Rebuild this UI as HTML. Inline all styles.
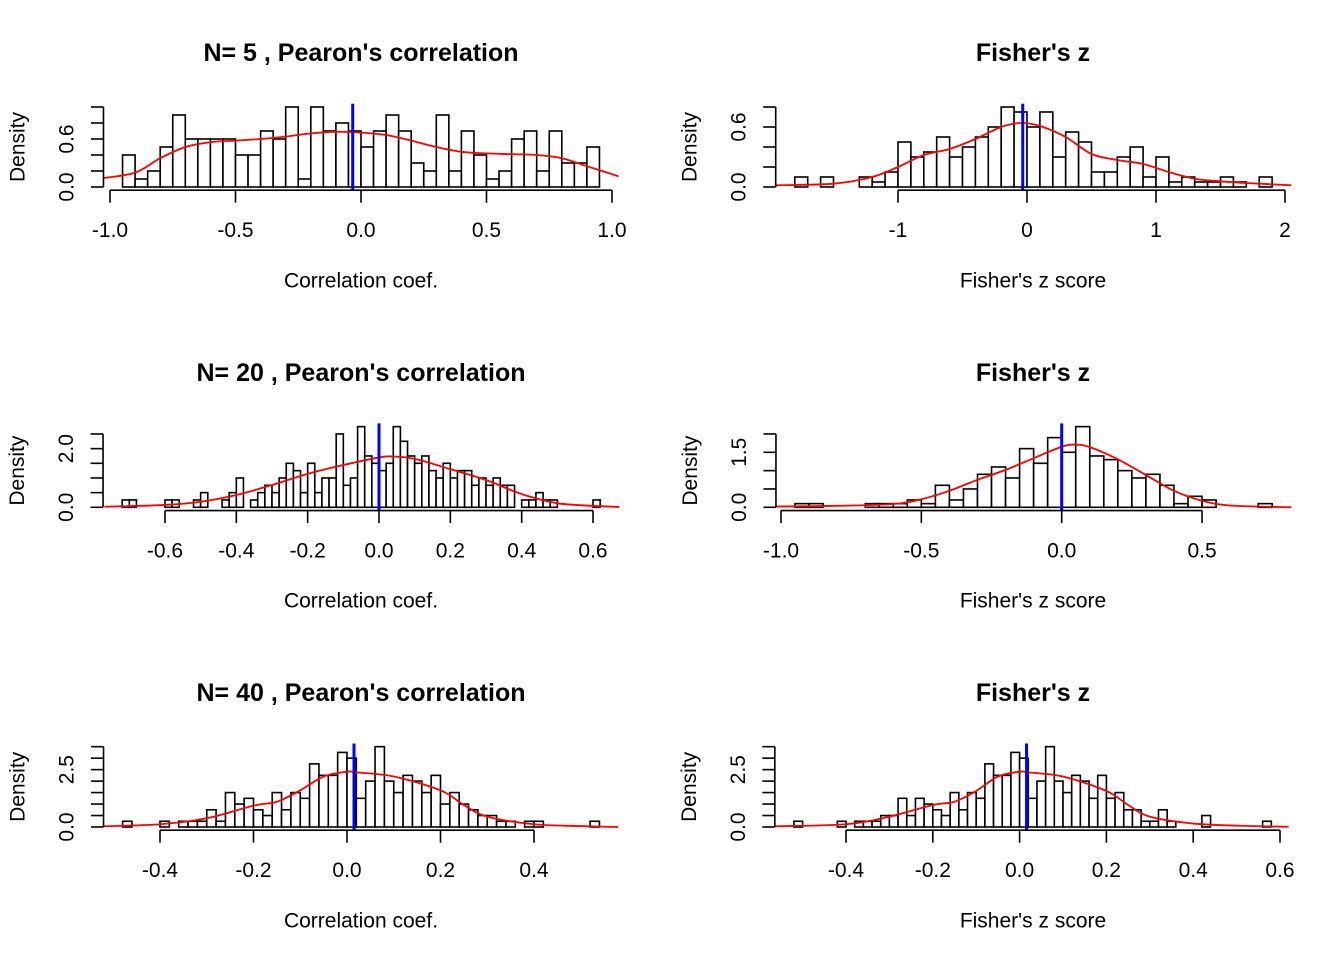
<!DOCTYPE html>
<html><head><meta charset="utf-8"><title>Correlation histograms</title>
<style>
html,body{margin:0;padding:0;background:#fff;}
svg{display:block;font-family:"Liberation Sans",Arial,sans-serif;}
</style></head>
<body>
<svg id="chart" width="1344" height="960" viewBox="0 0 1344 960" xmlns="http://www.w3.org/2000/svg">
<rect x="0" y="0" width="1344" height="960" fill="#fff"/>
</svg>
<script>
// ---------- Panel 1: N=5 Pearson ----------
const p1Counts = [4,1,2,5,9,6,6,6,6,4,4,7,6,10,1,10,7,8,7,5,7,9,7,3,2,9,2,7,4,1,2,6,7,2,7,3,3,5];
const p1CurveX = [-1.03,-0.9,-0.8,-0.7,-0.6,-0.5,-0.4,-0.3,-0.2,-0.1,0,0.1,0.2,0.3,0.4,0.5,0.6,0.7,0.8,0.9,1.03];
const p1CurveY = [0.11,0.18,0.36,0.5,0.56,0.58,0.6,0.63,0.67,0.69,0.68,0.65,0.58,0.5,0.44,0.42,0.41,0.4,0.36,0.26,0.13];
const p1XTicks = [-1.0,-0.5,0.0,0.5,1.0];
const p1XLabels = ["-1.0","-0.5","0.0","0.5","1.0"];
const p1YTicks = [0,0.2,0.4,0.6,0.8,1.0];
const p1YLabelVals = [0,0.6];
const p1YLabels = ["0.0","0.6"];
const p1Mean = -0.033;
// ---------- Panel 2: Fisher z (N=5) ----------
const p2Counts = [2,0,2,0,0,2,1,3,9,6,7,10,6,8,10,12,16,15,12,15,6,11,9,3,3,6,8,2,6,1,2,1,1,2,1,0,2];
const p2CurveX = [-1.95,-1.5,-1.2,-1.0,-0.8,-0.6,-0.4,-0.2,-0.05,0.1,0.3,0.5,0.7,0.9,1.1,1.3,1.5,1.7,2.05];
const p2CurveY = [0.017,0.033,0.1,0.2,0.32,0.38,0.48,0.6,0.64,0.61,0.5,0.33,0.27,0.23,0.15,0.083,0.057,0.04,0.017];
const p2XTicks = [-1,0,1,2];
const p2XLabels = ["-1","0","1","2"];
const p2YTicks = [0,0.2,0.4,0.6,0.8];
const p2YLabelVals = [0,0.6];
const p2YLabels = ["0.0","0.6"];
const p2Mean = -0.033;
// ---------- Panel 3: N=20 Pearson ----------
const p3Counts = [1,1,0,0,0,0,1,1,0,0,1,2,0,0,1,2,4,0,1,2,3,2,4,6,5,2,6,2,4,4,10,3,4,11,7,6,5,6,11,9,7,6,7,5,4,6,4,5,5,3,4,3,4,3,3,0,1,1,2,1,1,0,0,0,0,0,1];
const p3CurveX = [-0.77,-0.6,-0.5,-0.4,-0.3,-0.2,-0.1,0,0.04,0.1,0.2,0.3,0.4,0.5,0.6,0.68];
const p3CurveY = [0.02,0.08,0.19,0.42,0.76,1.14,1.44,1.7,1.73,1.65,1.3,0.93,0.45,0.14,0.05,0.01];
const p3XTicks = [-0.6,-0.4,-0.2,0,0.2,0.4,0.6];
const p3XLabels = ["-0.6","-0.4","-0.2","0.0","0.2","0.4","0.6"];
const p3YTicks = [0,0.5,1,1.5,2,2.5];
const p3YLabelVals = [0,2];
const p3YLabels = ["0.0","2.0"];
const p3Mean = 0.0;
// ---------- Panel 4: Fisher z (N=20) ----------
const p4Counts = [1,1,0,0,0,1,1,1,2,1,6,2,5,9,11,8,16,12,19,15,22,14,13,10,8,9,6,1,3,2,0,0,0,1];
const p4CurveX = [-1.02,-0.8,-0.6,-0.5,-0.4,-0.3,-0.2,-0.1,0,0.05,0.1,0.2,0.3,0.4,0.5,0.6,0.82];
const p4CurveY = [0.02,0.04,0.09,0.22,0.45,0.75,1.02,1.34,1.65,1.71,1.64,1.31,0.88,0.45,0.18,0.05,0.0];
const p4XTicks = [-1.0,-0.5,0,0.5];
const p4XLabels = ["-1.0","-0.5","0.0","0.5"];
const p4YTicks = [0,0.5,1,1.5,2];
const p4YLabelVals = [0,1.5];
const p4YLabels = ["0.0","1.5"];
const p4Mean = 0.0;
// ---------- Panel 5: N=40 Pearson ----------
const p5Counts = [1,0,0,0,1,0,1,1,1,3,1,6,4,5,3,2,6,3,6,5,11,9,9,13,12,5,8,14,8,6,9,8,6,9,4,6,4,3,2,2,1,1,0,1,1,0,0,0,0,0,1];
const p5CurveX = [-0.52,-0.4,-0.3,-0.2,-0.15,-0.1,-0.05,0,0.02,0.1,0.2,0.25,0.3,0.4,0.5,0.58];
const p5CurveY = [0.03,0.12,0.38,0.93,1.1,1.6,2.2,2.41,2.38,2.2,1.6,0.96,0.45,0.12,0.04,0.0];
const p5XTicks = [-0.4,-0.2,0,0.2,0.4];
const p5XLabels = ["-0.4","-0.2","0.0","0.2","0.4"];
const p5YTicks = [0,0.5,1,1.5,2,2.5,3,3.5];
const p5YLabelVals = [0,2.5];
const p5YLabels = ["0.0","2.5"];
const p5Mean = 0.015;
// ---------- Panel 6: Fisher z (N=40) ----------
const p6Counts = [1,0,0,0,0,1,0,1,1,1,2,2,5,2,5,4,3,2,6,3,6,5,11,9,9,13,12,5,8,14,8,6,9,8,5,9,5,6,3,3,1,1,3,1,0,0,0,2,0,0,0,0,0,0,1];
const p6CurveX = [-0.565,-0.4,-0.3,-0.2,-0.15,-0.1,-0.05,0,0.02,0.1,0.2,0.25,0.3,0.4,0.5,0.62];
const p6CurveY = [0.03,0.12,0.45,0.96,1.1,1.57,2.2,2.41,2.38,2.2,1.57,0.96,0.45,0.15,0.06,0.01];
const p6XTicks = [-0.4,-0.2,0,0.2,0.4,0.6];
const p6XLabels = ["-0.4","-0.2","0.0","0.2","0.4","0.6"];
const p6YTicks = [0,0.5,1,1.5,2,2.5,3,3.5];
const p6YLabelVals = [0,2.5];
const p6YLabels = ["0.0","2.5"];
const p6Mean = 0.016;

const NS = "http://www.w3.org/2000/svg";
const svg = document.getElementById('chart');
function mk(tag, attrs, parent){
  const e = document.createElementNS(NS, tag);
  for (const k in attrs) e.setAttribute(k, attrs[k]);
  (parent||svg).appendChild(e);
  return e;
}
function smoothPath(pts){
  let d = "M" + pts[0][0].toFixed(2) + "," + pts[0][1].toFixed(2);
  for (let i=0;i<pts.length-1;i++){
    const p0 = pts[Math.max(0,i-1)], p1 = pts[i], p2 = pts[i+1], p3 = pts[Math.min(pts.length-1,i+2)];
    const c1x = p1[0]+(p2[0]-p0[0])/6, c1y = p1[1]+(p2[1]-p0[1])/6;
    const c2x = p2[0]-(p3[0]-p1[0])/6, c2y = p2[1]-(p3[1]-p1[1])/6;
    d += " C"+c1x.toFixed(2)+","+c1y.toFixed(2)+" "+c2x.toFixed(2)+","+c2y.toFixed(2)+" "+p2[0].toFixed(2)+","+p2[1].toFixed(2);
  }
  return d;
}

const panels = [
 {id:1,title:"N= 5 , Pearon's correlation",xlab:"Correlation coef.",counts:p1Counts,start:-0.95,w:0.05,n:200,cx:p1CurveX,cy:p1CurveY,xt:p1XTicks,xl:p1XLabels,yt:p1YTicks,ylv:p1YLabelVals,yl:p1YLabels,mean:p1Mean,x0:361,xs:251,base:187,ys:80,col:0,row:0},
 {id:2,title:"Fisher's z",xlab:"Fisher's z score",counts:p2Counts,start:-1.8,w:0.1,n:200,cx:p2CurveX,cy:p2CurveY,xt:p2XTicks,xl:p2XLabels,yt:p2YTicks,ylv:p2YLabelVals,yl:p2YLabels,mean:p2Mean,x0:1027,xs:129,base:187,ys:100,col:1,row:0},
 {id:3,title:"N= 20 , Pearon's correlation",xlab:"Correlation coef.",counts:p3Counts,start:-0.72,w:0.02,n:200,cx:p3CurveX,cy:p3CurveY,xt:p3XTicks,xl:p3XLabels,yt:p3YTicks,ylv:p3YLabelVals,yl:p3YLabels,mean:p3Mean,x0:379,xs:356.7,base:507.3,ys:29.33,col:0,row:1},
 {id:4,title:"Fisher's z",xlab:"Fisher's z score",counts:p4Counts,start:-0.95,w:0.05,n:200,cx:p4CurveX,cy:p4CurveY,xt:p4XTicks,xl:p4XLabels,yt:p4YTicks,ylv:p4YLabelVals,yl:p4YLabels,mean:p4Mean,x0:1061.7,xs:280.7,base:507.3,ys:36.67,col:1,row:1},
 {id:5,title:"N= 40 , Pearon's correlation",xlab:"Correlation coef.",counts:p5Counts,start:-0.48,w:0.02,n:200,cx:p5CurveX,cy:p5CurveY,xt:p5XTicks,xl:p5XLabels,yt:p5YTicks,ylv:p5YLabelVals,yl:p5YLabels,mean:p5Mean,x0:347,xs:467.5,base:827,ys:22.95,col:0,row:2},
 {id:6,title:"Fisher's z",xlab:"Fisher's z score",counts:p6Counts,start:-0.52,w:0.02,n:200,cx:p6CurveX,cy:p6CurveY,xt:p6XTicks,xl:p6XLabels,yt:p6YTicks,ylv:p6YLabelVals,yl:p6YLabels,mean:p6Mean,x0:1019.6,xs:434,base:827,ys:22.95,col:1,row:2}
];

panels.forEach(P=>{
  const g = mk('g',{});
  
  
  const X = v => P.x0 + P.xs*v;
  const Y = v => P.base - P.ys*v;
  const nb = P.counts.length;
  const lo = P.start, hi = P.start + nb*P.w;
  const pad = (hi-lo)*0.04;
  const dens = P.counts.map(c=>c/(P.n*P.w));
  const ymax = Math.max(...dens, ...P.yt.slice(-1).map(()=>0));
  const left = X(lo-pad), right = X(hi+pad);
  const bottom = P.base + ymax*0.04*P.ys, top = P.base - ymax*1.04*P.ys;
  const centerX = P.col===0 ? 361 : 1033;
  const rowOff = [0,320,640][P.row];

  // title
  const t = mk('text',{x:centerX,y:61+rowOff,'text-anchor':'middle','font-size':'25','font-weight':'bold',fill:'#000'},g);
  t.textContent = P.title;
  
  
  // x label
  const xl = mk('text',{x:centerX,y:287.5+rowOff,'text-anchor':'middle','font-size':'21',fill:'#000'},g);
  xl.textContent = P.xlab;
  
  
  // y label
  const ylx = left-79, ylyc = (P.base + Y(P.yt[P.yt.length-1]))/2;
  const yl = mk('text',{x:ylx,y:ylyc,'text-anchor':'middle','font-size':'21',fill:'#000',transform:'rotate(-90 '+ylx+' '+ylyc+')'},g);
  yl.textContent = "Density";
  
  

  // bars
  const bars = mk('g',{},g);
  
  
  dens.forEach((d,i)=>{
    const x1 = X(lo+i*P.w), x2 = X(lo+(i+1)*P.w);
    const r = mk('rect',{x:x1,y:Y(d),width:x2-x1,height:Math.max(0,P.base-Y(d)),fill:'#fff',stroke:'#000','stroke-width':'1.6'},bars);
    
    
  });

  // clip
  const cp = mk('clipPath',{id:'clip'+P.id},g);
  mk('rect',{x:left,y:top,width:right-left,height:bottom-top},cp);

  // density curve
  const pts = P.cx.map((v,i)=>[X(v),Y(P.cy[i])]);
  const cur = mk('path',{d:smoothPath(pts),fill:'none',stroke:'#ff0000','stroke-width':'1.8','clip-path':'url(#clip'+P.id+')'},g);
  
  

  // mean line
  const ml = mk('line',{x1:X(P.mean),x2:X(P.mean),y1:top,y2:bottom,stroke:'#0000ff','stroke-width':'3'},g);
  
  

  // x axis
  const xa = mk('g',{},g);
  
  
  mk('line',{x1:X(P.xt[0]),x2:X(P.xt[P.xt.length-1]),y1:bottom,y2:bottom,stroke:'#000','stroke-width':'1.6'},xa);
  P.xt.forEach((v,i)=>{
    mk('line',{x1:X(v),x2:X(v),y1:bottom,y2:bottom+12.5,stroke:'#000','stroke-width':'1.6'},xa);
    const tl = mk('text',{x:X(v),y:bottom+47,'text-anchor':'middle','font-size':'21',fill:'#000'},xa);
    tl.textContent = P.xl[i];
    
    
  });

  // y axis
  const ya = mk('g',{},g);
  
  
  mk('line',{x1:left,x2:left,y1:Y(P.yt[0]),y2:Y(P.yt[P.yt.length-1]),stroke:'#000','stroke-width':'1.6'},ya);
  P.yt.forEach(v=>{
    mk('line',{x1:left-12.5,x2:left,y1:Y(v),y2:Y(v),stroke:'#000','stroke-width':'1.6'},ya);
  });
  P.ylv.forEach((v,i)=>{
    const lx = left-30, ly = Y(v);
    const tl = mk('text',{x:lx,y:ly,'text-anchor':'middle','font-size':'21',fill:'#000',transform:'rotate(-90 '+lx+' '+ly+')'},ya);
    tl.textContent = P.yl[i];
    
    
  });
});
</script>
</body></html>
